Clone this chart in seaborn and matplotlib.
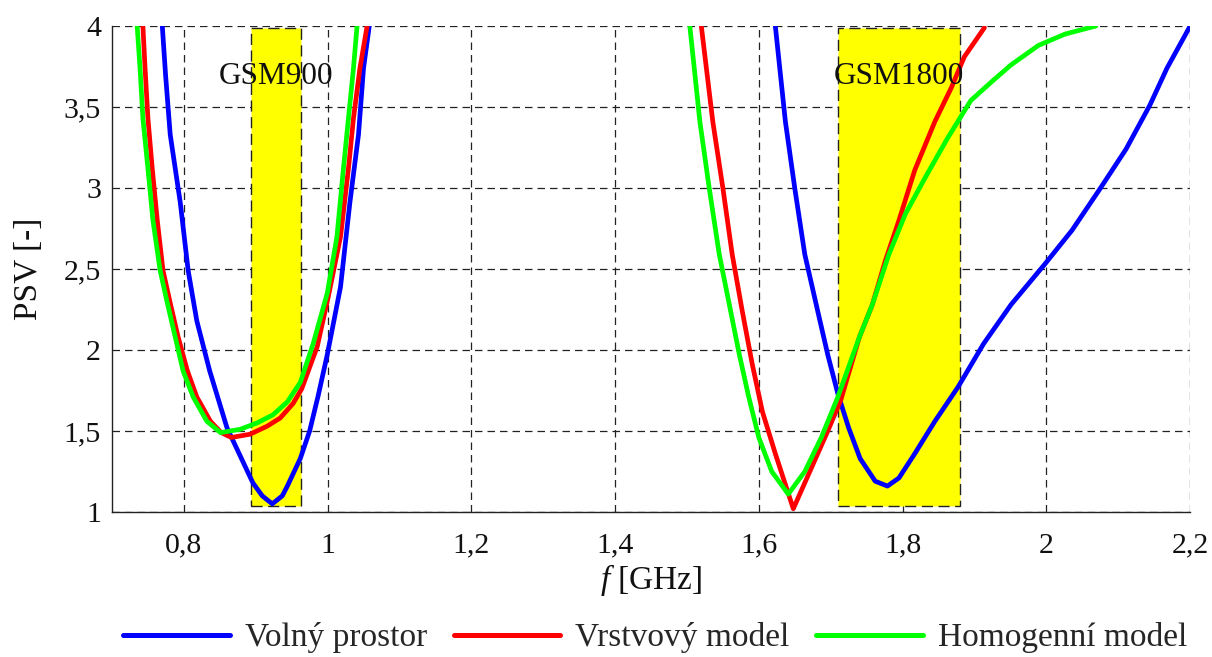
import matplotlib
matplotlib.use("Agg")
import matplotlib.pyplot as plt
import pandas as pd
import seaborn as sns
from matplotlib.patches import Rectangle

# PSV (standing-wave ratio) vs. frequency in GHz, one pair of arrays per resonance
f_volny_900 = [0.770, 0.7745, 0.781, 0.795, 0.806, 0.818, 0.836, 0.860, 0.878, 0.896,
               0.909, 0.923, 0.937, 0.944, 0.962, 0.975, 0.987, 0.9995, 1.018, 1.031,
               1.043, 1.050, 1.058]
psv_volny_900 = [4.00, 3.70, 3.33, 2.91, 2.49, 2.18, 1.87, 1.52, 1.35, 1.18,
                 1.10, 1.05, 1.10, 1.16, 1.33, 1.50, 1.72, 1.97, 2.39, 2.91,
                 3.33, 3.74, 4.00]
f_volny_1800 = [1.623, 1.637, 1.650, 1.664, 1.682, 1.696, 1.710, 1.725, 1.741, 1.762,
                1.779, 1.795, 1.817, 1.845, 1.877, 1.913, 1.951, 1.998, 2.036, 2.074,
                2.111, 2.144, 2.168, 2.199]
psv_volny_1800 = [4.00, 3.41, 3.00, 2.59, 2.24, 1.97, 1.73, 1.52, 1.33, 1.19,
                  1.16, 1.21, 1.36, 1.56, 1.77, 2.04, 2.28, 2.53, 2.74, 2.99,
                  3.24, 3.51, 3.74, 3.99]

f_vrstvovy_900 = [0.743, 0.746, 0.750, 0.756, 0.763, 0.771, 0.781, 0.792, 0.805, 0.818,
                  0.837, 0.852, 0.866, 0.892, 0.916, 0.934, 0.952, 0.964, 0.9855, 1.001,
                  1.018, 1.029, 1.036, 1.045, 1.055]
psv_vrstvovy_900 = [4.00, 3.74, 3.43, 3.12, 2.80, 2.49, 2.29, 2.08, 1.87, 1.71,
                    1.56, 1.49, 1.46, 1.48, 1.53, 1.58, 1.67, 1.76, 2.02, 2.33,
                    2.70, 3.12, 3.43, 3.74, 4.00]
f_vrstvovy_1800 = [1.520, 1.536, 1.550, 1.563, 1.577, 1.591, 1.605, 1.623, 1.648, 1.673,
                   1.696, 1.714, 1.740, 1.758, 1.776, 1.795, 1.817, 1.845, 1.868, 1.886,
                   1.914]
psv_vrstvovy_1800 = [4.00, 3.41, 3.00, 2.59, 2.24, 1.91, 1.62, 1.36, 1.02, 1.27,
                     1.50, 1.69, 2.08, 2.28, 2.55, 2.80, 3.11, 3.41, 3.62, 3.81,
                     3.99]

f_homogenni_900 = [0.735, 0.739, 0.743, 0.750, 0.757, 0.767, 0.777, 0.788, 0.799, 0.813,
                   0.832, 0.851, 0.878, 0.902, 0.924, 0.944, 0.962, 0.980, 0.9995, 1.013,
                   1.022, 1.029, 1.036, 1.041]
psv_homogenni_900 = [4.00, 3.74, 3.43, 3.12, 2.80, 2.49, 2.29, 2.08, 1.87, 1.71,
                     1.56, 1.49, 1.51, 1.55, 1.60, 1.68, 1.80, 2.04, 2.35, 2.70,
                     3.12, 3.43, 3.74, 4.00]
f_homogenni_1800 = [1.504, 1.518, 1.531, 1.545, 1.559, 1.573, 1.586, 1.600, 1.618, 1.641,
                    1.664, 1.687, 1.710, 1.740, 1.758, 1.781, 1.804, 1.831, 1.863, 1.895,
                    1.925, 1.951, 1.989, 2.026, 2.069]
psv_homogenni_1800 = [4.00, 3.41, 3.00, 2.59, 2.28, 1.97, 1.71, 1.46, 1.25, 1.11,
                      1.25, 1.46, 1.71, 2.08, 2.28, 2.59, 2.84, 3.06, 3.31, 3.54,
                      3.66, 3.76, 3.88, 3.95, 4.00]

models = ["Volný prostor", "Vrstvový model", "Homogenní model"]
colors = ["#0000ff", "#ff0000", "#00ff00"]

bands = ["GSM900", "GSM1800"]
band_start = [0.893, 1.71]
band_stop = [0.963, 1.88]
band_psv_low = 1.04
band_psv_high = 3.99

x_ticks = [0.8, 1.0, 1.2, 1.4, 1.6, 1.8, 2.0, 2.2]
x_tick_labels = ["0,8", "1", "1,2", "1,4", "1,6", "1,8", "2", "2,2"]
y_ticks = [1.0, 1.5, 2.0, 2.5, 3.0, 3.5, 4.0]
y_tick_labels = ["1", "1,5", "2", "2,5", "3", "3,5", "4"]

# long-form table: each resonance is its own unit so the two lobes are not joined
series = [
    (models[0], "900", f_volny_900, psv_volny_900),
    (models[0], "1800", f_volny_1800, psv_volny_1800),
    (models[1], "900", f_vrstvovy_900, psv_vrstvovy_900),
    (models[1], "1800", f_vrstvovy_1800, psv_vrstvovy_1800),
    (models[2], "900", f_homogenni_900, psv_homogenni_900),
    (models[2], "1800", f_homogenni_1800, psv_homogenni_1800),
]
frames = [pd.DataFrame({"f": f, "psv": p, "model": m, "lobe": m + lobe})
          for m, lobe, f, p in series]
data = pd.concat(frames, ignore_index=True)

sns.set_style("white")
plt.rcParams["font.family"] = ["Liberation Serif", "DejaVu Serif"]
plt.rcParams["mathtext.fontset"] = "custom"
plt.rcParams["mathtext.rm"] = "Liberation Serif"
plt.rcParams["mathtext.it"] = "Liberation Serif:italic"

fig = plt.figure(figsize=(12.12, 6.57), dpi=100)
ax = fig.add_axes([112 / 1212, 1 - 512 / 657, (1190 - 112) / 1212, (512 - 26) / 657])

# frequency bands
for name, lo, hi in zip(bands, band_start, band_stop):
    ax.add_patch(Rectangle((lo, band_psv_low), hi - lo, band_psv_high - band_psv_low,
                           facecolor="#ffff00", edgecolor="#222222", lw=1.0,
                           linestyle=(0, (8, 4)), zorder=1.5))
    ax.text((lo + hi) / 2, 3.69, name, ha="center", va="center", fontsize=22.5,
            color="#111111", zorder=3)

sns.lineplot(data=data, x="f", y="psv", hue="model", units="lobe", estimator=None,
             sort=False, hue_order=models, palette=dict(zip(models, colors)),
             linewidth=3.4, ax=ax, zorder=2)
for line in ax.get_lines():
    line.set_solid_joinstyle("round")

ax.set_xlim(0.7, 2.2)
ax.set_ylim(1, 4)
ax.set_xticks(x_ticks)
ax.set_xticklabels(x_tick_labels)
ax.set_yticks(y_ticks)
ax.set_yticklabels(y_tick_labels)

ax.grid(True, color="#222222", lw=0.9, linestyle=(0, (6, 4)))
ax.set_axisbelow(True)
for side in ("top", "right"):
    ax.spines[side].set_visible(False)
for side in ("left", "bottom"):
    ax.spines[side].set_color("#222222")
    ax.spines[side].set_linewidth(1.0)

ax.tick_params(axis="both", direction="in", length=6, width=0.8, color="#222222",
               labelsize=21.5, labelcolor="#111111")
ax.tick_params(axis="x", pad=15)
ax.tick_params(axis="y", pad=8)

ax.set_xlabel("$f$ [GHz]", fontsize=24, color="#111111", labelpad=2)
ax.set_ylabel("PSV [-]", fontsize=24, color="#111111", labelpad=14)

ax.legend_.remove()
handles = [plt.Line2D([], [], color=c, lw=3.6) for c in colors]
fig.legend(handles, models, loc="center left", bbox_to_anchor=(123 / 1212, 0.029), ncol=3,
           frameon=False, fontsize=24, handlelength=3.2, handletextpad=0.45,
           columnspacing=0.8, borderaxespad=0, borderpad=0)

fig.savefig("out.png", dpi=100)
